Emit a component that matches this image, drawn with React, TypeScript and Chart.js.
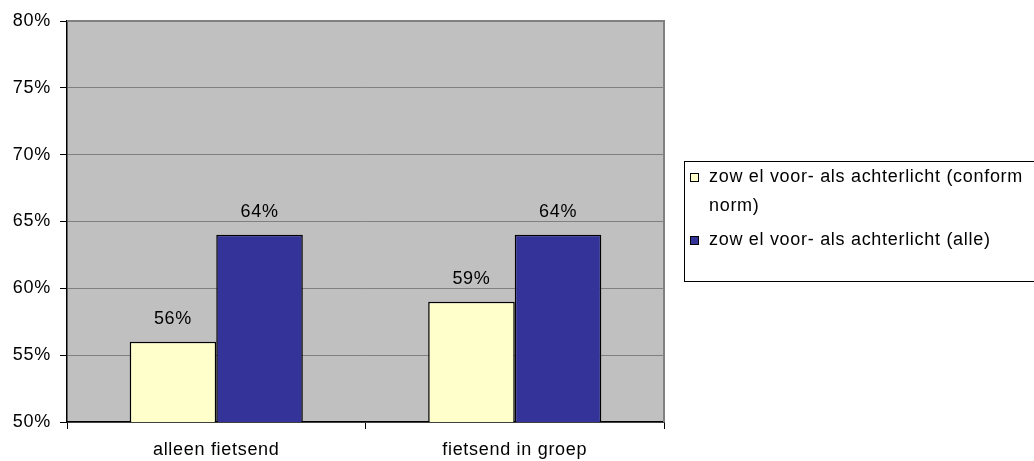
import React, { useEffect, useRef } from "react";
import { Chart, registerables } from "chart.js";

Chart.register(...registerables);

const categories = ["alleen fietsend", "fietsend in groep"];
const seriesNames = [
  "zow el voor- als achterlicht (conform norm)",
  "zow el voor- als achterlicht (alle)",
];
const conformNorm = [56, 59];
const alle = [64, 64];
const yTicks = [50, 55, 60, 65, 70, 75, 80];

const FONT = "'Liberation Sans', Arial, sans-serif";
const FONT_SIZE = 18;
const LETTER_SPACING = "0.7px";
const PLOT_BG = "#C0C0C0";
const GRID = "#808080";
const COLORS = ["#FFFFCC", "#333399"];

// slightly loose text tracking for every label on the canvas
const tracking = {
  id: "tracking",
  beforeInit(chart: any) {
    chart.ctx.letterSpacing = LETTER_SPACING;
  },
  beforeDraw(chart: any) {
    chart.ctx.letterSpacing = LETTER_SPACING;
  },
};

// gray plot area with a gray frame on top and right
const plotBackground = {
  id: "plotBackground",
  beforeDraw(chart: any) {
    const { ctx, chartArea: a } = chart;
    ctx.save();
    ctx.fillStyle = PLOT_BG;
    ctx.fillRect(a.left, a.top, a.right - a.left, a.bottom - a.top);
    ctx.restore();
  },
  afterDatasetsDraw(chart: any) {
    const { ctx, chartArea: a } = chart;
    ctx.save();
    ctx.strokeStyle = GRID;
    ctx.lineWidth = 2;
    ctx.beginPath();
    ctx.moveTo(a.left, a.top);
    ctx.lineTo(a.right, a.top);
    ctx.lineTo(a.right, a.bottom);
    ctx.stroke();
    ctx.restore();
  },
};

// percentage text above each bar
const barValues = {
  id: "barValues",
  afterDatasetsDraw(chart: any) {
    const { ctx } = chart;
    ctx.save();
    ctx.font = `${FONT_SIZE}px ${FONT}`;
    ctx.fillStyle = "#000";
    ctx.textAlign = "center";
    ctx.textBaseline = "middle";
    chart.data.datasets.forEach((ds: any, i: number) => {
      const meta = chart.getDatasetMeta(i);
      meta.data.forEach((bar: any, j: number) => {
        ctx.fillText(`${ds.data[j]}%`, bar.x, bar.y - 23);
      });
    });
    ctx.restore();
  },
};

// boxed legend on the right
const sideLegend = {
  id: "sideLegend",
  afterDraw(chart: any) {
    const { ctx } = chart;
    const boxX = 684;
    const boxY = 161;
    ctx.save();
    ctx.strokeStyle = "#000";
    ctx.lineWidth = 1;
    ctx.strokeRect(boxX + 0.5, boxY + 0.5, 400, 120);
    ctx.font = `${FONT_SIZE}px ${FONT}`;
    ctx.fillStyle = "#000";
    ctx.textAlign = "left";
    ctx.textBaseline = "middle";
    const entries = [
      { color: COLORS[0], lines: ["zow el voor- als achterlicht (conform", "norm)"], y: 177 },
      { color: COLORS[1], lines: [seriesNames[1]], y: 240 },
    ];
    entries.forEach((e) => {
      ctx.fillStyle = e.color;
      ctx.fillRect(690, e.y - 4, 9, 9);
      ctx.strokeStyle = "#000";
      ctx.strokeRect(690.5, e.y - 3.5, 8, 8);
      ctx.fillStyle = "#000";
      e.lines.forEach((ln, k) => ctx.fillText(ln, 709, e.y + k * 29));
    });
    ctx.restore();
  },
};

export default function App() {
  const ref = useRef<HTMLCanvasElement | null>(null);

  useEffect(() => {
    document.body.style.margin = "0";
    if (!ref.current) return;
    const chart = new Chart(ref.current, {
      type: "bar",
      data: {
        labels: categories,
        datasets: [
          {
            label: seriesNames[0],
            data: conformNorm,
            backgroundColor: COLORS[0],
            borderColor: "#000",
            borderWidth: 1.5,
          },
          {
            label: seriesNames[1],
            data: alle,
            backgroundColor: COLORS[1],
            borderColor: "#000",
            borderWidth: 1.5,
          },
        ],
      },
      options: {
        animation: false,
        responsive: false,
        maintainAspectRatio: false,
        layout: { padding: { top: 21, right: 370, left: 0, bottom: 0 } },
        datasets: { bar: { categoryPercentage: 0.58, barPercentage: 1 } },
        plugins: {
          legend: { display: false },
          tooltip: { enabled: false },
        },
        scales: {
          x: {
            grid: {
              offset: true,
              drawOnChartArea: false,
              drawTicks: true,
              tickLength: 7,
              color: "#000",
            },
            border: { color: "#000", width: 1.5 },
            ticks: {
              color: "#000",
              font: { family: FONT, size: FONT_SIZE },
              padding: 10,
              maxRotation: 0,
            },
            afterFit(scale: any) {
              scale.height = 39;
            },
          },
          y: {
            min: 50,
            max: 80,
            afterBuildTicks(scale: any) {
              scale.ticks = yTicks.map((v) => ({ value: v }));
            },
            grid: {
              color: GRID,
              lineWidth: 1,
              drawTicks: true,
              tickLength: 7,
              tickColor: "#000",
            },
            border: { color: "#000", width: 1.5 },
            ticks: {
              color: "#000",
              font: { family: FONT, size: FONT_SIZE },
              padding: 9,
              callback: (v: any) => `${v}%`,
            },
            afterFit(scale: any) {
              scale.width = 67;
            },
          },
        },
      },
      plugins: [tracking, plotBackground, barValues, sideLegend],
    });
    return () => chart.destroy();
  }, []);

  return (
    <div style={{ position: "absolute", left: 0, top: 0, width: 1034, height: 461, background: "#fff" }}>
      <canvas ref={ref} width={1034} height={461} />
    </div>
  );
}
